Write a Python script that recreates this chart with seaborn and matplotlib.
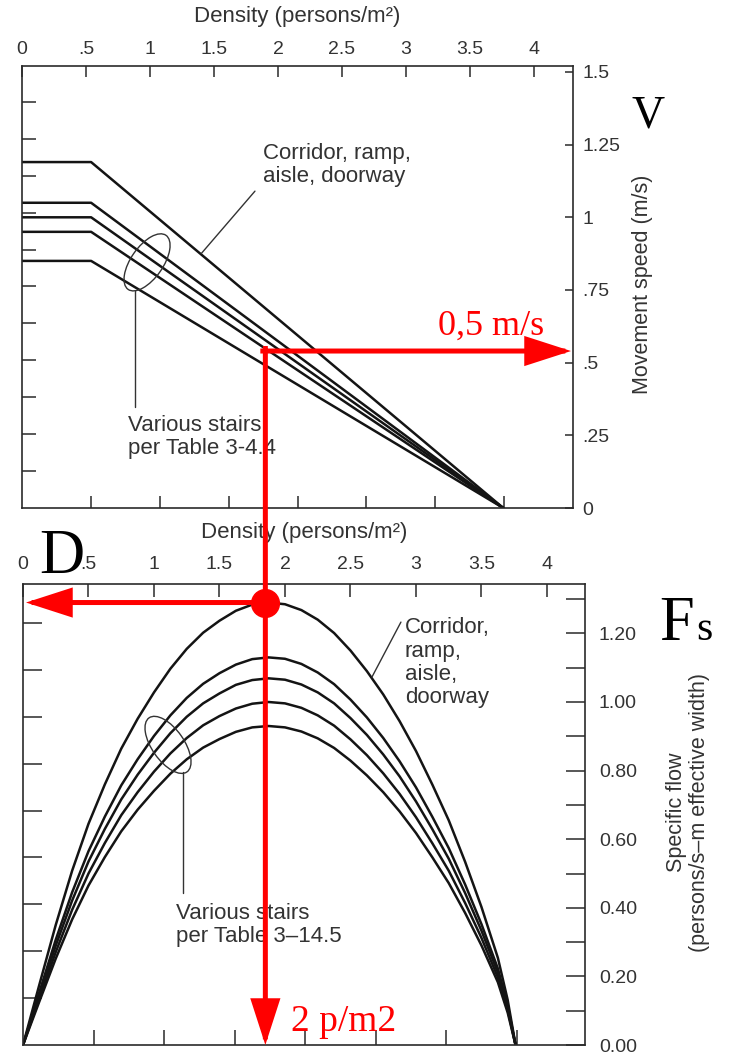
import numpy as np
import pandas as pd
import matplotlib
matplotlib.use("Agg")
import matplotlib.pyplot as plt
import seaborn as sns
from matplotlib.patches import Ellipse

# ---------------- data ----------------
curve_names = ["Corridor, ramp, aisle, doorway", "Stair A", "Stair B", "Stair C", "Stair D"]

# movement speed (m/s) vs density (persons/m2)
speed_density = [0.0, 0.54, 3.76]
speed_corridor = [1.19, 1.19, 0.0]
speed_stair_a = [1.05, 1.05, 0.0]
speed_stair_b = [1.00, 1.00, 0.0]
speed_stair_c = [0.95, 0.95, 0.0]
speed_stair_d = [0.85, 0.85, 0.0]

# specific flow (persons/s-m effective width) vs density (persons/m2)
flow_density = [0.0, 0.125, 0.25, 0.375, 0.5, 0.625, 0.75, 0.875, 1.0, 1.125,
                1.25, 1.375, 1.5, 1.625, 1.75, 1.875, 2.0, 2.125, 2.25, 2.375,
                2.5, 2.625, 2.75, 2.875, 3.0, 3.125, 3.25, 3.375, 3.5, 3.625,
                3.7, 3.76]
flow_corridor = [0, .176, .350, .508, .645, .760, .864, .951, 1.028, 1.097,
                 1.155, 1.202, 1.237, 1.266, 1.284, 1.290, 1.285, 1.268, 1.240, 1.201,
                 1.150, 1.090, 1.022, .944, .857, .759, .655, .534, .402, .254,
                 .131, 0]
flow_stair_a = [0, .154, .307, .445, .565, .666, .757, .833, .901, .961,
                1.012, 1.053, 1.084, 1.109, 1.125, 1.130, 1.126, 1.111, 1.086, 1.052,
                1.007, .955, .895, .827, .751, .665, .574, .468, .352, .223,
                .115, 0]
flow_stair_b = [0, .146, .290, .421, .535, .630, .716, .788, .852, .909,
                .957, .996, 1.025, 1.050, 1.064, 1.069, 1.065, 1.051, 1.028, .996,
                .953, .904, .847, .783, .710, .629, .543, .443, .333, .211,
                .109, 0]
flow_stair_c = [0, .136, .271, .394, .500, .589, .670, .737, .797, .850,
                .895, .932, .959, .981, .995, 1.000, .996, .983, .961, .931,
                .891, .845, .792, .732, .664, .588, .508, .414, .312, .197,
                .102, 0]
flow_stair_d = [0, .127, .252, .366, .465, .548, .623, .686, .741, .791,
                .833, .867, .892, .913, .926, .930, .926, .914, .894, .866,
                .829, .786, .737, .681, .618, .547, .472, .385, .290, .183,
                .094, 0]

density_ticks = [0, 0.5, 1, 1.5, 2, 2.5, 3, 3.5, 4]
density_tick_labels = ["0", ".5", "1", "1.5", "2", "2.5", "3", "3.5", "4"]
speed_ticks = [0, 0.25, 0.5, 0.75, 1.0, 1.25, 1.5]
speed_tick_labels = ["0", ".25", ".5", ".75", "1", "1.25", "1.5"]
flow_ticks = [0, .1, .2, .3, .4, .5, .6, .7, .8, .9, 1.0, 1.1, 1.2, 1.3]
flow_tick_labels = ["0.00", "", "0.20", "", "0.40", "", "0.60", "", "0.80", "",
                    "1.00", "", "1.20", ""]

# secondary (imperial) unlabeled tick marks
density_ft2_ticks = [0.05, 0.10, 0.15, 0.20, 0.25, 0.30, 0.35]   # persons/ft2
speed_ftmin_ticks = [25, 50, 75, 100, 125, 150, 175, 200, 225, 250, 275]  # ft/min
flow_ftmin_ticks = [2.5, 5, 7.5, 10, 12.5, 15, 17.5, 20, 22.5]  # persons/min-ft
M2_PER_FT2 = 10.7639
MS_PER_FTMIN = 0.00508
FLOW_CONV = 3.28084 / 60.0

# red reading guide
red_density = 1.85
red_speed = 0.54
red_flow = 1.29

# ---------------- frames ----------------
speed_series = [speed_corridor, speed_stair_a, speed_stair_b, speed_stair_c, speed_stair_d]
flow_series = [flow_corridor, flow_stair_a, flow_stair_b, flow_stair_c, flow_stair_d]
speed_df = pd.concat([pd.DataFrame({"density": speed_density, "speed": s, "curve": n})
                      for n, s in zip(curve_names, speed_series)], ignore_index=True)
flow_df = pd.concat([pd.DataFrame({"density": flow_density, "flow": f, "curve": n})
                     for n, f in zip(curve_names, flow_series)], ignore_index=True)

# ---------------- style ----------------
sns.set_theme(style="white")
plt.rcParams["font.family"] = ["Liberation Sans", "DejaVu Sans"]
plt.rcParams["axes.edgecolor"] = "#2a2a2a"
plt.rcParams["axes.linewidth"] = 1.2

W, H = 731, 1064
fig = plt.figure(figsize=(W / 100, H / 100), dpi=100)
fig.patch.set_facecolor("white")

ax1 = fig.add_axes([22 / W, 1 - 508 / H, 551 / W, 442 / H])
ax2 = fig.add_axes([23 / W, 1 - 1045 / H, 562 / W, 461 / H])

line_color = "#141414"
text_color = "#333333"
pal = [line_color] * len(curve_names)

sns.lineplot(data=speed_df, x="density", y="speed", hue="curve", palette=pal,
             estimator=None, sort=False, legend=False, lw=1.8, ax=ax1)
sns.lineplot(data=flow_df, x="density", y="flow", hue="curve", palette=pal,
             estimator=None, sort=False, legend=False, lw=1.8, ax=ax2)
for ln in ax2.get_lines():
    ln.set_solid_joinstyle("round")

ax1.set_xlim(0, 551 / 128)
ax1.set_ylim(0, 442 / 290.7)
ax2.set_xlim(0, 562 / 131)
ax2.set_ylim(0, 461 / 343)

for ax in (ax1, ax2):
    ax.set_facecolor("white")
    for sp in ax.spines.values():
        sp.set_visible(True)
        sp.set_color("#2a2a2a")
        sp.set_linewidth(1.2)

# ---- top panel ticks ----
ax1.set_xticks(density_ticks)
ax1.set_xticklabels(density_tick_labels)
ax1.set_xticks([d * M2_PER_FT2 for d in density_ft2_ticks], minor=True)
ax1.set_yticks(speed_ticks)
ax1.set_yticklabels(speed_tick_labels)
ax1.set_yticks([s * MS_PER_FTMIN for s in speed_ftmin_ticks], minor=True)
ax1.tick_params(axis="x", which="major", direction="in", top=True, bottom=False,
                labeltop=True, labelbottom=False, length=8, width=1.1, pad=6,
                labelsize=14, color="#2a2a2a", labelcolor=text_color)
ax1.tick_params(axis="x", which="minor", direction="in", top=False, bottom=True,
                length=9, width=1.1, color="#2a2a2a")
ax1.tick_params(axis="y", which="major", direction="in", left=False, right=True,
                labelleft=False, labelright=True, length=6, width=1.1, pad=7,
                labelsize=14, color="#2a2a2a", labelcolor=text_color)
ax1.tick_params(axis="y", which="minor", direction="in", left=True, right=False,
                length=10, width=1.1, color="#2a2a2a")

# ---- bottom panel ticks ----
ax2.set_xticks(density_ticks)
ax2.set_xticklabels(density_tick_labels)
ax2.set_xticks([d * M2_PER_FT2 for d in density_ft2_ticks], minor=True)
ax2.set_yticks(flow_ticks)
ax2.set_yticklabels(flow_tick_labels)
ax2.set_yticks([f * FLOW_CONV for f in flow_ftmin_ticks], minor=True)
ax2.tick_params(axis="x", which="major", direction="in", top=True, bottom=False,
                labeltop=True, labelbottom=False, length=9, width=1.1, pad=8,
                labelsize=14, color="#2a2a2a", labelcolor=text_color)
ax2.tick_params(axis="x", which="minor", direction="in", top=False, bottom=True,
                length=11, width=1.1, color="#2a2a2a")
ax2.tick_params(axis="y", which="major", direction="in", left=False, right=True,
                labelleft=False, labelright=True, length=14, width=1.1, pad=10,
                labelsize=14, color="#2a2a2a", labelcolor=text_color)
ax2.tick_params(axis="y", which="minor", direction="in", left=True, right=False,
                length=14, width=1.1, color="#2a2a2a")

# ---- axis labels ----
ax1.set_xlabel("Density (persons/m²)", fontsize=16, color=text_color)
ax1.xaxis.set_label_position("top")
ax1.xaxis.set_label_coords(0.499, 1.112)
ax1.xaxis.label.set_va("center")
ax1.set_ylabel("Movement speed (m/s)", fontsize=15.5, color=text_color)
ax1.yaxis.set_label_position("right")
ax1.yaxis.set_label_coords(1.127, 0.505)
ax1.yaxis.label.set_va("center")
ax1.yaxis.label.set_ha("center")

ax2.set_xlabel("Density (persons/m²)", fontsize=16, color=text_color)
ax2.xaxis.set_label_position("top")
ax2.xaxis.set_label_coords(0.5, 1.111)
ax2.xaxis.label.set_va("center")
ax2.set_ylabel("Specific flow\n(persons/s–m effective width)", fontsize=15.5,
               color=text_color, linespacing=1.15)
ax2.yaxis.set_label_position("right")
ax2.yaxis.set_label_coords(1.183, 0.505)
ax2.yaxis.label.set_va("center")
ax2.yaxis.label.set_ha("center")

# ---- annotations in panels ----
ann_kw = dict(fontsize=16, color=text_color)
ax1.text(1.88, 1.18, "Corridor, ramp,\naisle, doorway", ha="left", va="center",
         linespacing=1.15, **ann_kw)
ax1.plot([1.82, 1.40], [1.09, 0.875], color="#333333", lw=1.0)
ax1.plot([0.883, 0.883], [0.745, 0.348], color="#333333", lw=1.0)
ax1.text(0.83, 0.245, "Various stairs\nper Table 3-4.4", ha="left", va="center",
         linespacing=1.1, **ann_kw)

ax2.text(2.916, 1.114, "Corridor,\nramp,\naisle,\ndoorway", ha="left", va="center",
         linespacing=1.15, **ann_kw)
ax2.plot([2.885, 2.664], [1.233, 1.073], color="#333333", lw=1.0)
ax2.plot([1.221, 1.221], [0.795, 0.443], color="#333333", lw=1.0)
ax2.text(1.168, 0.35, "Various stairs\nper Table 3–14.5", ha="left", va="center",
         linespacing=1.1, **ann_kw)

# ---- overlay in figure pixels ----
ov = fig.add_axes([0, 0, 1, 1], zorder=10)
ov.set_xlim(0, W)
ov.set_ylim(0, H)
ov.axis("off")
ov.patch.set_alpha(0)

def to_px(ax, x, y):
    return ax.transData.transform((x, y))

# ellipses grouping the stair curves
c1 = to_px(ax1, 0.977, 0.845)
ov.add_patch(Ellipse(c1, width=66, height=32, angle=55, fill=False,
                     edgecolor="#333333", lw=1.0))
c2 = to_px(ax2, 1.107, 0.875)
ov.add_patch(Ellipse(c2, width=66, height=32, angle=-55, fill=False,
                     edgecolor="#333333", lw=1.0))

# red reading guide
rx = to_px(ax2, red_density, 0)[0]
ry_top = to_px(ax1, 0, red_speed)[1]
ry_bot = to_px(ax2, 0, 0)[1]
ry_dot = to_px(ax2, 0, red_flow)[1]
x_right = to_px(ax1, ax1.get_xlim()[1], 0)[0] - 2
x_left = to_px(ax2, 0, 0)[0] + 3

red = "#ff0000"
arrow = dict(arrowstyle="-|>,head_length=1.3,head_width=0.42", mutation_scale=20,
             color=red, lw=3.6, shrinkA=0, shrinkB=0, joinstyle="miter",
             capstyle="projecting")
ov.annotate("", xy=(rx, ry_bot), xytext=(rx, ry_top + 2.5), arrowprops=arrow)
ov.annotate("", xy=(x_right, ry_top), xytext=(rx - 2.5, ry_top), arrowprops=arrow)
ov.annotate("", xy=(x_left, ry_dot), xytext=(rx, ry_dot), arrowprops=arrow)
ov.plot([rx], [ry_dot], marker="o", ms=20, color=red, mec=red)

serif = ["Liberation Serif", "DejaVu Serif"]
ov.text(438, H - 335, "0,5 m/s", family=serif, fontsize=26, color=red,
        ha="left", va="baseline")
ov.text(291, H - 1031, "2 p/m2", family=serif, fontsize=27, color=red,
        ha="left", va="baseline")
ov.text(632, H - 127, "V", family=serif, fontsize=33, color="black",
        ha="left", va="baseline")
ov.text(39, H - 573, "D", family=serif, fontsize=45, color="black",
        ha="left", va="baseline")
ov.text(659, H - 640, "F", family=serif, fontsize=45, color="black",
        ha="left", va="baseline")
ov.text(696, H - 640, "s", family=serif, fontsize=30, color="black",
        ha="left", va="baseline")

fig.savefig("out.png", dpi=100, facecolor="white")
